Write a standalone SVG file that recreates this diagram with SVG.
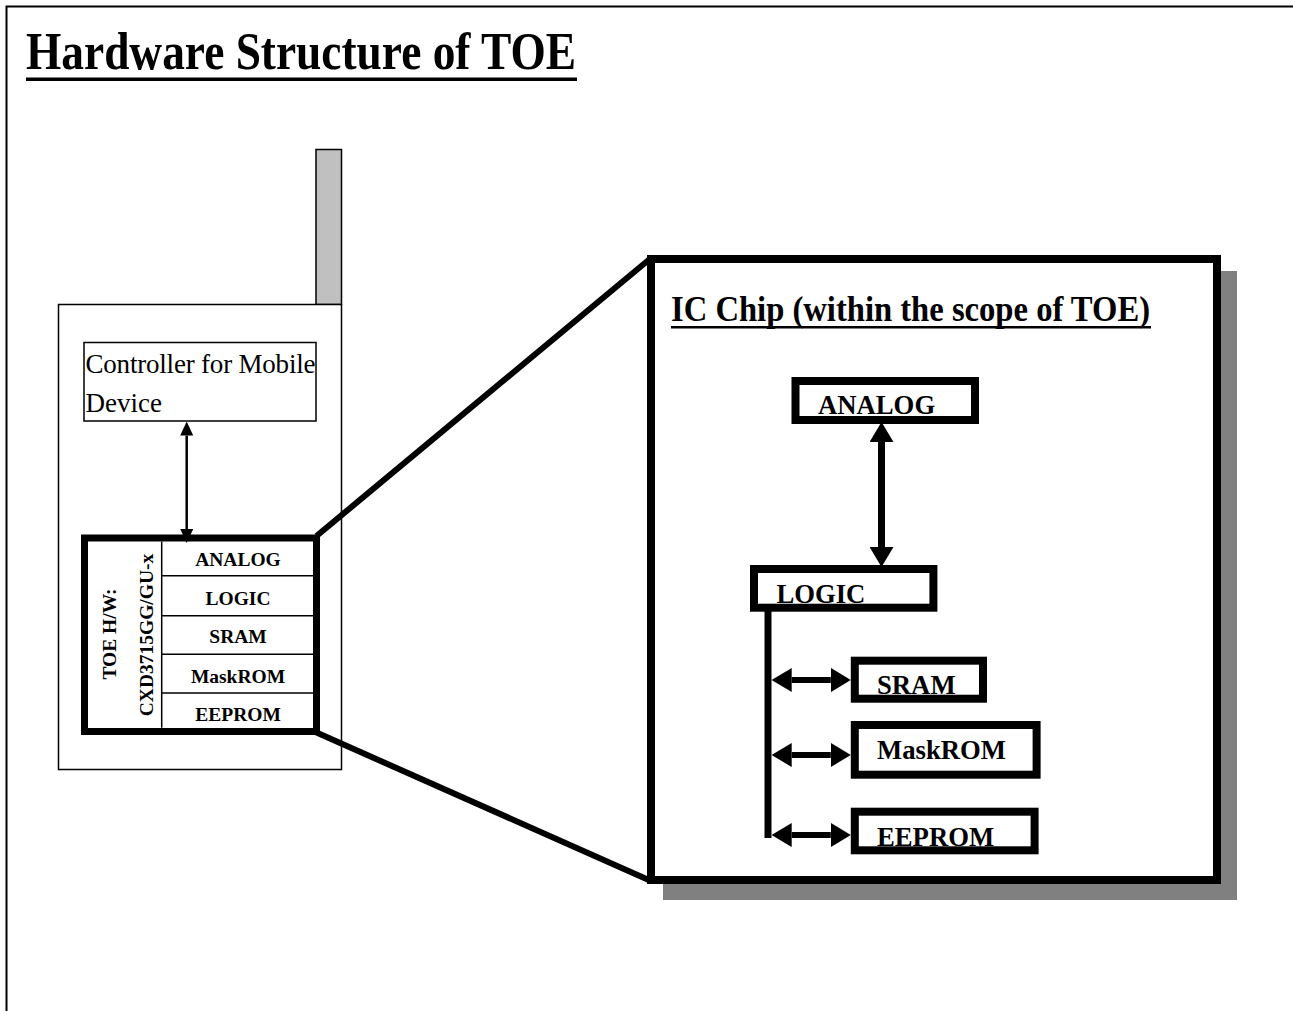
<svg xmlns="http://www.w3.org/2000/svg" width="1293" height="1011" viewBox="0 0 1293 1011">
<style>
  .t { font-family: "Liberation Serif", "Times New Roman", Times, serif; fill: #000; }
  .b { font-weight: bold; }
  .thin { fill: #fff; stroke: #000; stroke-width: 1.5; }
  .thick { fill: #fff; stroke: #000; stroke-width: 8; }
  .lbl { font-family: "Liberation Serif", "Times New Roman", Times, serif; font-weight: bold; font-size: 26.7px; fill: #000; }
  .row { font-family: "Liberation Serif", "Times New Roman", Times, serif; font-weight: bold; font-size: 19.5px; fill: #000; text-anchor: middle; }
</style>
<defs>
  <marker id="ahBig" viewBox="0 0 20 24" refX="0" refY="12" markerWidth="20" markerHeight="24" markerUnits="userSpaceOnUse" orient="auto-start-reverse">
    <path d="M0,0 L20,12 L0,24 z" fill="#000"/>
  </marker>
  <marker id="ahSmall" viewBox="0 0 14 13" refX="0" refY="6.5" markerWidth="14" markerHeight="13" markerUnits="userSpaceOnUse" orient="auto-start-reverse">
    <path d="M0,0 L14,6.5 L0,13 z" fill="#000"/>
  </marker>
</defs>
<rect width="1293" height="1011" fill="#fff"/>
<path d="M6.5,1011 V6.5 H1293" fill="none" stroke="#000" stroke-width="2"/>

<g id="title">
  <text class="t b" x="26" y="69" font-size="53" textLength="550" lengthAdjust="spacingAndGlyphs">Hardware Structure of TOE</text>
  <rect x="26" y="77.5" width="551" height="3.5" fill="#000"/>
</g>

<g id="phone">
  <rect x="316" y="149.5" width="25.5" height="155" fill="#c0c0c0" stroke="#000" stroke-width="1.5"/>
  <rect x="58.5" y="304.5" width="283" height="465" fill="#fff" stroke="#000" stroke-width="1.5"/>
</g>

<g id="controller">
  <rect class="thin" x="84" y="342.5" width="232" height="78.5"/>
  <text class="t" x="85.5" y="373.3" font-size="27" textLength="230" lengthAdjust="spacing">Controller for Mobile</text>
  <text class="t" x="85.5" y="411.7" font-size="27">Device</text>
</g>

<g id="toe-hw">
  <rect x="84.5" y="538" width="232" height="193.5" fill="#fff" stroke="#000" stroke-width="7"/>
  <path d="M161.7,541.5 V727.8 M161.7,575.7 H313 M161.7,615.7 H313 M161.7,654.3 H313 M161.7,693 H313" stroke="#000" stroke-width="1.5" fill="none"/>
  <text class="row" transform="translate(116,634) rotate(-90)">TOE H/W:</text>
  <text class="row" transform="translate(153,635) rotate(-90)">CXD3715GG/GU-x</text>
  <text class="row" x="238" y="565.7">ANALOG</text>
  <text class="row" x="238" y="605">LOGIC</text>
  <text class="row" x="238" y="643.3">SRAM</text>
  <text class="row" x="238" y="682.7">MaskROM</text>
  <text class="row" x="238" y="721">EEPROM</text>
</g>

<g id="callout">
  <path d="M316.5,536 L651,258 M316.5,732.5 L651,881" stroke="#000" stroke-width="6" fill="none"/>
</g>

<g id="ic-chip">
  <rect x="663" y="271" width="574" height="629" fill="#808080"/>
  <rect class="thick" x="651" y="259" width="566" height="621"/>
  <text class="t b" x="671" y="321" font-size="36" textLength="479" lengthAdjust="spacingAndGlyphs">IC Chip (within the scope of TOE)</text>
  <rect x="671" y="326" width="480" height="2.5" fill="#000"/>
</g>

<g id="analog">
  <rect class="thick" x="795.5" y="381" width="179.5" height="39"/>
  <text class="lbl" x="818" y="414.3">ANALOG</text>
</g>
<g id="logic">
  <rect class="thick" x="754" y="569" width="179.4" height="38.7"/>
  <text class="lbl" x="776.4" y="603.3">LOGIC</text>
</g>
<g id="sram">
  <rect class="thick" x="854.8" y="660.7" width="128.2" height="38"/>
  <text class="lbl" x="877" y="694.3">SRAM</text>
</g>
<g id="maskrom">
  <rect class="thick" x="854.8" y="725" width="181.8" height="49.7"/>
  <text class="lbl" x="877" y="759.3">MaskROM</text>
</g>
<g id="eeprom">
  <rect class="thick" x="854.8" y="811.7" width="179.8" height="38.6"/>
  <text class="lbl" x="877" y="846">EEPROM</text>
</g>

<g id="connectors" fill="none" stroke="#000">
  <path d="M186.7,435.5 V529" stroke-width="2.5" marker-start="url(#ahSmall)" marker-end="url(#ahSmall)"/>
  <path d="M881.5,442 V547" stroke-width="7" marker-start="url(#ahBig)" marker-end="url(#ahBig)"/>
  <path d="M768,611 V838" stroke-width="7"/>
  <path d="M791.7,680 H830.8" stroke-width="6" marker-start="url(#ahBig)" marker-end="url(#ahBig)"/>
  <path d="M791.7,755 H830.8" stroke-width="6" marker-start="url(#ahBig)" marker-end="url(#ahBig)"/>
  <path d="M791.7,835 H830.8" stroke-width="6" marker-start="url(#ahBig)" marker-end="url(#ahBig)"/>
</g>
</svg>
